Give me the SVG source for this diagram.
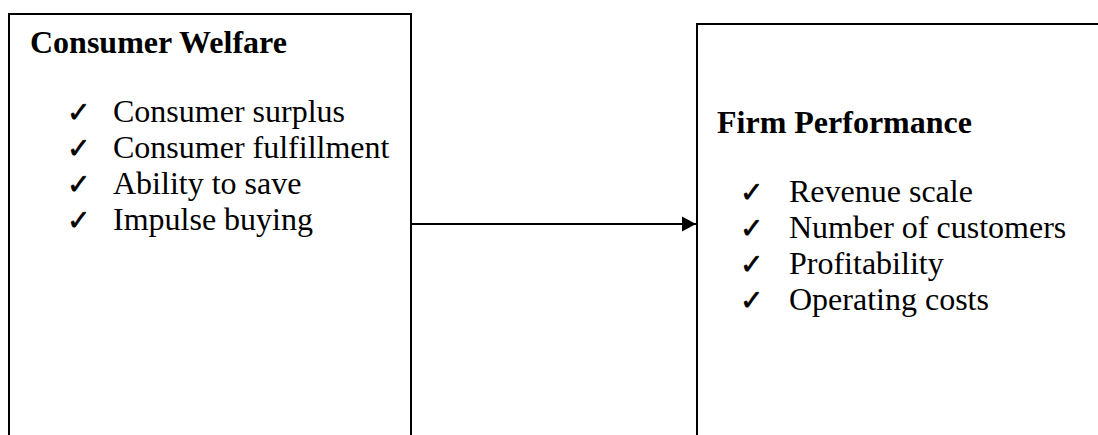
<svg xmlns="http://www.w3.org/2000/svg" width="1098" height="435" viewBox="0 0 1098 435">
<style>
.box{fill:#fff;stroke:#000;stroke-width:2}
.h{font-family:"Liberation Serif",serif;font-weight:bold;font-size:32px;fill:#000}
.t{font-family:"Liberation Serif",serif;font-size:32px;fill:#000}
.ck{font-family:"DejaVu Sans",sans-serif;font-size:28px;fill:#000;stroke:#000;stroke-width:0.7}
.c{stroke:#000;stroke-width:2;fill:none}
</style>
<defs>
<marker id="ah" markerUnits="userSpaceOnUse" markerWidth="16" markerHeight="16" refX="14" refY="8" orient="auto">
<path d="M0,0.5 L14,8 L0,15.5 Z" fill="#000"/>
</marker>
</defs>
<rect width="1098" height="435" fill="#fff"/>
<g id="consumer-welfare">
<rect class="box" x="9" y="14" width="402" height="440"/>
<text class="h" x="30" y="53">Consumer Welfare</text>
<text class="ck" x="67" y="122">✓</text><text class="t" x="113" y="122">Consumer surplus</text>
<text class="ck" x="67" y="158">✓</text><text class="t" x="113" y="158">Consumer fulfillment</text>
<text class="ck" x="67" y="194">✓</text><text class="t" x="113" y="194">Ability to save</text>
<text class="ck" x="67" y="230">✓</text><text class="t" x="113" y="230">Impulse buying</text>
</g>
<g id="firm-performance">
<rect class="box" x="697" y="24" width="420" height="430"/>
<text class="h" x="717" y="133">Firm Performance</text>
<text class="ck" x="740" y="202">✓</text><text class="t" x="789" y="202">Revenue scale</text>
<text class="ck" x="740" y="238">✓</text><text class="t" x="789" y="238">Number of customers</text>
<text class="ck" x="740" y="274">✓</text><text class="t" x="789" y="274">Profitability</text>
<text class="ck" x="740" y="310">✓</text><text class="t" x="789" y="310">Operating costs</text>
</g>
<g id="connectors">
<line class="c" x1="411" y1="224" x2="696" y2="224" marker-end="url(#ah)"/>
</g>
</svg>
